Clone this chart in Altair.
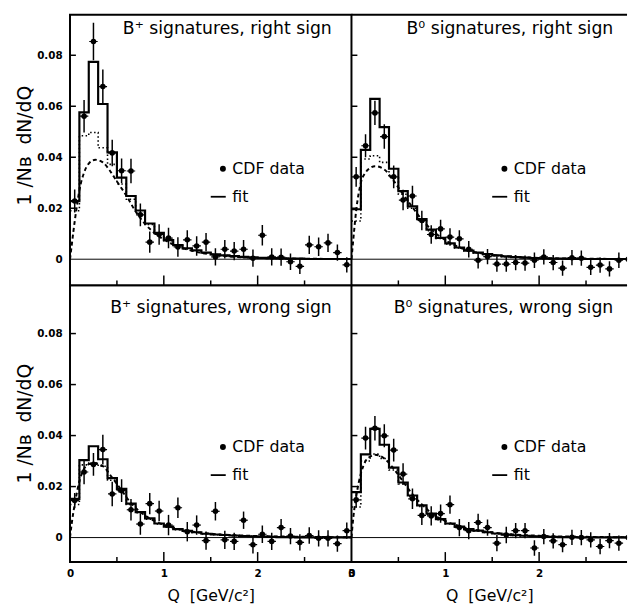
import altair as alt
import pandas as pd

FONT = "DejaVu Sans"

# ---------------- shared axis data ----------------
Q_CENTERS = [0.05, 0.15, 0.25, 0.35, 0.45, 0.55, 0.65, 0.75, 0.85, 0.95,
             1.05, 1.15, 1.25, 1.35, 1.45, 1.55, 1.65, 1.75, 1.85, 1.95,
             2.05, 2.15, 2.25, 2.35, 2.45, 2.55, 2.65, 2.75, 2.85, 2.95]
BIN_EDGES = [0.0, 0.1, 0.2, 0.3, 0.4, 0.5, 0.6, 0.7, 0.8, 0.9,
             1.0, 1.1, 1.2, 1.3, 1.4, 1.5, 1.6, 1.7, 1.8, 1.9,
             2.0, 2.1, 2.2, 2.3, 2.4, 2.5, 2.6, 2.7, 2.8, 2.9, 3.0]
Y_TICKS = [0, 0.02, 0.04, 0.06, 0.08]
Y_INNER_TICKS = [0.02, 0.04, 0.06, 0.08]
X_LABELS_LEFT = [0, 1, 2, 3]
X_LABELS_RIGHT = [0, 1, 2]
X_MAJOR = [1, 2]
X_MINOR = [0.5, 1.5, 2.5]

# ---------------- B+ right sign ----------------
BP_RS_DATA = [0.0228, 0.0561, 0.0854, 0.0677, 0.0417, 0.0347, 0.0346, 0.0174, 0.0067, 0.0097,
              0.0083, 0.0048, 0.0076, 0.0052, 0.0067, 0.0009, 0.0039, 0.0032, 0.0039, 0.0004,
              0.0094, 0.0009, 0.0008, -0.0010, -0.0028, 0.0056, 0.0049, 0.0064, 0.0026, -0.0022]
BP_RS_ERR = [0.0045, 0.0064, 0.0074, 0.0067, 0.0052, 0.0048, 0.0048, 0.0045, 0.0042, 0.0040,
             0.0040, 0.0038, 0.0038, 0.0038, 0.0036, 0.0034, 0.0036, 0.0036, 0.0036, 0.0034,
             0.0040, 0.0034, 0.0034, 0.0032, 0.0030, 0.0036, 0.0036, 0.0036, 0.0032, 0.0030]
BP_RS_FIT = [0.0228, 0.0576, 0.0774, 0.0609, 0.0419, 0.0320, 0.0248, 0.0191, 0.0140, 0.0103,
             0.0075, 0.0055, 0.0043, 0.0035, 0.0026, 0.0019, 0.0015, 0.0012, 0.0009, 0.0007,
             0.0005, 0.0004, 0.0003, 0.0002, 0.0002, 0.0001, 0.0001, 0.0001, 0.0001, 0.0001]
BP_RS_DOT = [0.0190, 0.0484, 0.0497, 0.0437, 0.0372, 0.0295, 0.0235, 0.0182, 0.0136, 0.0100,
             0.0073, 0.0053, 0.0041, 0.0033, 0.0025, 0.0018, 0.0014, 0.0011, 0.0008, 0.0006,
             0.0005, 0.0004, 0.0003, 0.0002, 0.0002, 0.0001, 0.0001, 0.0001, 0.0001, 0.0001]
BP_RS_DASH_Q = [0.0, 0.02, 0.04, 0.07, 0.10, 0.15, 0.20, 0.27, 0.35, 0.42, 0.50, 0.60, 0.70,
                0.80, 0.94, 1.10, 1.30, 1.50, 1.70, 2.00, 2.50, 3.00]
BP_RS_DASH_V = [0.0, 0.0060, 0.0120, 0.0200, 0.0270, 0.0340, 0.0375, 0.0390, 0.0380, 0.0350,
                0.0305, 0.0250, 0.0187, 0.0138, 0.0092, 0.0058, 0.0033, 0.0019, 0.0011, 0.0005,
                0.0002, 0.0001]

# ---------------- B0 right sign ----------------
B0_RS_DATA = [0.0323, 0.0445, 0.0574, 0.0481, 0.0323, 0.0232, 0.0248, 0.0152, 0.0097, 0.0119,
              0.0087, 0.0080, 0.0039, -0.0004, 0.0010, -0.0019, -0.0019, -0.0013, -0.0015, -0.0004,
              0.0009, -0.0013, -0.0035, 0.0006, 0.0004, -0.0032, -0.0023, -0.0038, -0.0004, 0.0000]
B0_RS_ERR = [0.0039, 0.0045, 0.0048, 0.0048, 0.0045, 0.0040, 0.0040, 0.0038, 0.0036, 0.0036,
             0.0034, 0.0034, 0.0032, 0.0032, 0.0030, 0.0030, 0.0030, 0.0030, 0.0030, 0.0030,
             0.0030, 0.0030, 0.0030, 0.0030, 0.0030, 0.0030, 0.0030, 0.0030, 0.0030, 0.0030]
B0_RS_FIT = [0.0196, 0.0429, 0.0629, 0.0518, 0.0355, 0.0267, 0.0207, 0.0157, 0.0116, 0.0084,
             0.0062, 0.0046, 0.0034, 0.0026, 0.0020, 0.0015, 0.0011, 0.0008, 0.0006, 0.0004,
             0.0003, 0.0002, 0.0002, 0.0001, 0.0001, 0.0001, 0.0001, 0.0001, 0.0001, 0.0001]
B0_RS_DOT = [0.0150, 0.0393, 0.0406, 0.0380, 0.0320, 0.0255, 0.0200, 0.0152, 0.0112, 0.0081,
             0.0060, 0.0044, 0.0033, 0.0025, 0.0019, 0.0014, 0.0010, 0.0008, 0.0006, 0.0004,
             0.0003, 0.0002, 0.0002, 0.0001, 0.0001, 0.0001, 0.0001, 0.0001, 0.0001, 0.0001]
B0_RS_DASH_Q = [0.0, 0.02, 0.05, 0.10, 0.15, 0.20, 0.25, 0.35, 0.45, 0.55, 0.65, 0.75, 0.85,
                0.95, 1.05, 1.20, 1.40, 1.60, 1.80, 2.00, 2.50, 2.95]
B0_RS_DASH_V = [0.0, 0.0080, 0.0190, 0.0300, 0.0340, 0.0358, 0.0365, 0.0352, 0.0307, 0.0255,
                0.0204, 0.0155, 0.0117, 0.0087, 0.0064, 0.0040, 0.0022, 0.0013, 0.0008, 0.0005,
                0.0002, 0.0001]

# ---------------- B+ wrong sign ----------------
BP_WS_DATA = [0.0145, 0.0257, 0.0287, 0.0345, 0.0171, 0.0184, 0.0109, 0.0053, 0.0133, 0.0104,
              0.0049, 0.0117, 0.0023, 0.0049, -0.0012, 0.0103, -0.0009, -0.0015, 0.0068, -0.0028,
              0.0013, -0.0015, 0.0039, 0.0006, -0.0019, 0.0008, -0.0003, -0.0003, -0.0024, 0.0027]
BP_WS_ERR = [0.0030, 0.0048, 0.0045, 0.0058, 0.0048, 0.0045, 0.0042, 0.0042, 0.0042, 0.0040,
             0.0040, 0.0040, 0.0038, 0.0038, 0.0036, 0.0036, 0.0036, 0.0034, 0.0034, 0.0034,
             0.0034, 0.0034, 0.0034, 0.0032, 0.0032, 0.0032, 0.0032, 0.0032, 0.0032, 0.0032]
BP_WS_FIT = [0.0152, 0.0304, 0.0358, 0.0307, 0.0233, 0.0191, 0.0133, 0.0100, 0.0075, 0.0055,
             0.0043, 0.0033, 0.0026, 0.0021, 0.0015, 0.0012, 0.0010, 0.0008, 0.0006, 0.0005,
             0.0004, 0.0003, 0.0002, 0.0002, 0.0001, 0.0001, 0.0001, 0.0001, 0.0001, 0.0001]
BP_WS_DOT = [0.0130, 0.0285, 0.0292, 0.0280, 0.0225, 0.0180, 0.0130, 0.0097, 0.0072, 0.0053,
             0.0041, 0.0031, 0.0025, 0.0020, 0.0014, 0.0011, 0.0009, 0.0007, 0.0006, 0.0005,
             0.0004, 0.0003, 0.0002, 0.0002, 0.0001, 0.0001, 0.0001, 0.0001, 0.0001, 0.0001]
BP_WS_DASH_Q = [0.0, 0.02, 0.05, 0.10, 0.15, 0.20, 0.25, 0.35, 0.45, 0.55, 0.65, 0.75, 0.85,
                1.00, 1.20, 1.50, 2.00, 2.50, 3.00]
BP_WS_DASH_V = [0.0, 0.0060, 0.0130, 0.0220, 0.0270, 0.0288, 0.0293, 0.0280, 0.0235, 0.0185,
                0.0135, 0.0100, 0.0075, 0.0050, 0.0030, 0.0015, 0.0006, 0.0003, 0.0001]

# ---------------- B0 wrong sign ----------------
B0_WS_DATA = [0.0148, 0.0390, 0.0429, 0.0399, 0.0343, 0.0249, 0.0152, 0.0087, 0.0085, 0.0094,
              0.0129, 0.0039, 0.0027, 0.0059, 0.0039, -0.0022, 0.0010, 0.0027, 0.0027, -0.0041,
              0.0004, -0.0013, -0.0028, 0.0001, 0.0000, -0.0009, -0.0035, -0.0012, -0.0022, 0.0000]
B0_WS_ERR = [0.0030, 0.0045, 0.0048, 0.0045, 0.0045, 0.0042, 0.0040, 0.0038, 0.0038, 0.0036,
             0.0036, 0.0034, 0.0034, 0.0034, 0.0032, 0.0032, 0.0032, 0.0030, 0.0030, 0.0030,
             0.0030, 0.0030, 0.0030, 0.0030, 0.0030, 0.0030, 0.0030, 0.0030, 0.0030, 0.0030]
B0_WS_FIT = [0.0178, 0.0326, 0.0426, 0.0364, 0.0274, 0.0216, 0.0165, 0.0126, 0.0094, 0.0072,
             0.0055, 0.0043, 0.0033, 0.0027, 0.0021, 0.0016, 0.0012, 0.0009, 0.0007, 0.0005,
             0.0004, 0.0003, 0.0002, 0.0002, 0.0001, 0.0001, 0.0001, 0.0001, 0.0001, 0.0001]
B0_WS_DOT = [0.0120, 0.0300, 0.0328, 0.0310, 0.0265, 0.0210, 0.0160, 0.0122, 0.0091, 0.0070,
             0.0053, 0.0042, 0.0032, 0.0026, 0.0020, 0.0015, 0.0011, 0.0008, 0.0006, 0.0005,
             0.0004, 0.0003, 0.0002, 0.0002, 0.0001, 0.0001, 0.0001, 0.0001, 0.0001, 0.0001]
B0_WS_DASH_Q = [0.0, 0.02, 0.05, 0.10, 0.15, 0.20, 0.25, 0.35, 0.45, 0.55, 0.65, 0.75, 0.85,
                1.00, 1.20, 1.50, 2.00, 2.50, 2.95]
B0_WS_DASH_V = [0.0, 0.0080, 0.0160, 0.0250, 0.0300, 0.0318, 0.0325, 0.0310, 0.0270, 0.0220,
                0.0170, 0.0130, 0.0097, 0.0065, 0.0040, 0.0020, 0.0007, 0.0003, 0.0001]

TITLES = ["B\u207a signatures, right sign", "B\u2070 signatures, right sign",
          "B\u207a signatures, wrong sign", "B\u2070 signatures, wrong sign"]
LEGEND_TEXT = ["CDF data", "fit"]
X_TITLE = "Q\u00a0\u00a0[GeV/c\u00b2]"
Y_TITLE = "1 /N\u0299\u00a0\u00a0dN/dQ"

# layout (pixels)
W_LEFT, W_RIGHT = 286, 280
H_TOP, H_BOT = 275, 281
XMAX_LEFT, XMAX_RIGHT = 3.0, 2.937
YDOM_TOP = [-0.01026, 0.0959]
YDOM_BOT = [-0.00955, 0.0989]


def make_panel(data, err, fit, dot, dq, dv, title, title_y, w, h, xmax, ydom,
               left, bottom, right, y_title_y):
    xs = alt.Scale(domain=[0, xmax], nice=False, zero=False)
    ys = alt.Scale(domain=ydom, nice=False, zero=False)
    if bottom:
        xaxis = alt.Axis(values=X_LABELS_LEFT if left else X_LABELS_RIGHT, format="d",
                         labelFlush=False, labelOverlap=False, title=X_TITLE,
                         ticks=False, tickSize=0, domain=False, grid=False,
                         labelFont=FONT, labelFontSize=10.5, labelFontWeight="bold",
                         labelColor="black", labelPadding=7,
                         titleFont=FONT, titleFontSize=16, titleFontWeight="normal",
                         titleColor="black", titleBaseline="alphabetic", titleY=39)
    else:
        xaxis = None
    if left:
        yaxis = alt.Axis(values=Y_TICKS,
                         labelExpr="datum.value == 0 ? '0' : format(datum.value, '.2f')",
                         title=Y_TITLE, ticks=False, tickSize=0, domain=False,
                         grid=False, labelFont=FONT, labelFontSize=10.5,
                         labelFontWeight="bold", labelColor="black", labelPadding=8,
                         titleFont=FONT, titleFontSize=19, titleFontWeight="normal",
                         titleColor="black", titleX=-40, titleY=y_title_y,
                         titleAlign="center", titleBaseline="alphabetic")
    else:
        yaxis = None

    def X(f="x"):
        return alt.X(f"{f}:Q", scale=xs, axis=xaxis)

    def Y(f="y"):
        return alt.Y(f"{f}:Q", scale=ys, axis=yaxis)

    pts = pd.DataFrame({
        "x": Q_CENTERS, "y": data,
        "lo": [v - e for v, e in zip(data, err)],
        "hi": [v + e for v, e in zip(data, err)],
        "xlo": [q - 0.045 for q in Q_CENTERS],
        "xhi": [q + 0.045 for q in Q_CENTERS],
    })
    fit_df = pd.DataFrame({"x": BIN_EDGES, "y": fit + [fit[-1]]})
    dot_df = pd.DataFrame({"x": BIN_EDGES, "y": dot + [dot[-1]]})
    dash_df = pd.DataFrame({"x": dq, "y": dv})

    zero = alt.Chart(pd.DataFrame({"y": [0.0]})).mark_rule(
        color="black", strokeWidth=1).encode(y=Y())
    dotted = alt.Chart(dot_df).mark_line(
        interpolate="step-after", color="black", strokeWidth=1.6,
        strokeDash=[1.5, 2.5], clip=True).encode(x=X(), y=Y())
    dashed = alt.Chart(dash_df).mark_line(
        interpolate="monotone", color="black", strokeWidth=2,
        strokeDash=[4, 3], clip=True).encode(x=X(), y=Y())
    solid = alt.Chart(fit_df).mark_line(
        interpolate="step-after", color="black", strokeWidth=2.2,
        clip=True).encode(x=X(), y=Y())
    ebar = alt.Chart(pts).mark_rule(color="black", strokeWidth=1.5, clip=True).encode(
        x=X(), y=Y("lo"), y2="hi:Q")
    xbar = alt.Chart(pts).mark_rule(color="black", strokeWidth=1.2, clip=True).encode(
        x=X("xlo"), x2="xhi:Q", y=Y())
    dots = alt.Chart(pts).mark_circle(color="black", size=32, opacity=1, clip=True).encode(
        x=X(), y=Y())
    ttl = alt.Chart(pd.DataFrame({"x": [2.79], "y": [title_y], "t": [title]})).mark_text(
        align="right", baseline="alphabetic", font=FONT, fontSize=17.5,
        color="black").encode(x=X(), y=Y(), text="t:N")
    bullet = alt.Chart(pd.DataFrame({"x": [1.63], "y": [0.0355]})).mark_circle(
        color="black", size=36, opacity=1).encode(x=X(), y=Y())
    leg_txt = alt.Chart(pd.DataFrame({"x": [1.73, 1.73], "y": [0.0355, 0.0245],
                                      "t": LEGEND_TEXT})).mark_text(
        align="left", baseline="middle", font=FONT, fontSize=16,
        color="black").encode(x=X(), y=Y(), text="t:N")
    leg_dash = alt.Chart(pd.DataFrame({"x": [1.50], "x2": [1.66], "y": [0.0245]})).mark_rule(
        color="black", strokeWidth=1.8).encode(x=X(), x2="x2:Q", y=Y())
    tmaj = alt.Chart(pd.DataFrame({"x": X_MAJOR})).mark_rule(
        color="black", strokeWidth=1.5).encode(x=X(), y=alt.value(h), y2=alt.value(h - 10))
    tmin = alt.Chart(pd.DataFrame({"x": X_MINOR})).mark_rule(
        color="black", strokeWidth=1.5).encode(x=X(), y=alt.value(h), y2=alt.value(h - 5))
    ytk = alt.Chart(pd.DataFrame({"y": Y_INNER_TICKS})).mark_rule(
        color="black", strokeWidth=1.5).encode(y=Y(), x=alt.value(0), x2=alt.value(6))

    layers = [zero, dotted, dashed, solid, ebar, xbar, dots, ttl, bullet, leg_txt,
              leg_dash, tmaj, tmin, ytk]
    props = dict(width=w, height=h)
    if right:
        top_edge = alt.Chart(pd.DataFrame({"y": [0]})).mark_rule(
            color="black", strokeWidth=2).encode(
            y=alt.value(0), x=alt.value(0), x2=alt.value(w))
        bot_edge = alt.Chart(pd.DataFrame({"y": [0]})).mark_rule(
            color="black", strokeWidth=2).encode(
            y=alt.value(h), x=alt.value(0), x2=alt.value(w))
        layers += [top_edge, bot_edge]
        props["view"] = alt.ViewBackground(stroke="transparent")
    return alt.layer(*layers).properties(**props)


tl = make_panel(BP_RS_DATA, BP_RS_ERR, BP_RS_FIT, BP_RS_DOT, BP_RS_DASH_Q, BP_RS_DASH_V,
                TITLES[0], 0.0884, W_LEFT, H_TOP, XMAX_LEFT, YDOM_TOP,
                left=True, bottom=False, right=False, y_title_y=132.5)
tr = make_panel(B0_RS_DATA, B0_RS_ERR, B0_RS_FIT, B0_RS_DOT, B0_RS_DASH_Q, B0_RS_DASH_V,
                TITLES[1], 0.0884, W_RIGHT, H_TOP, XMAX_RIGHT, YDOM_TOP,
                left=False, bottom=False, right=True, y_title_y=132.5)
bl = make_panel(BP_WS_DATA, BP_WS_ERR, BP_WS_FIT, BP_WS_DOT, BP_WS_DASH_Q, BP_WS_DASH_V,
                TITLES[2], 0.0880, W_LEFT, H_BOT, XMAX_LEFT, YDOM_BOT,
                left=True, bottom=True, right=False, y_title_y=140)
br = make_panel(B0_WS_DATA, B0_WS_ERR, B0_WS_FIT, B0_WS_DOT, B0_WS_DASH_Q, B0_WS_DASH_V,
                TITLES[3], 0.0880, W_RIGHT, H_BOT, XMAX_RIGHT, YDOM_BOT,
                left=False, bottom=True, right=True, y_title_y=140)

chart = alt.concat(tl, tr, bl, br, columns=2, spacing=0, bounds="flush",
                   padding={"left": 7, "top": 0, "right": 0, "bottom": 0},
                   background="white"
                   ).configure_view(stroke="black", strokeWidth=2)

chart.save("out.html", embed_options={"renderer": "svg", "actions": False})
